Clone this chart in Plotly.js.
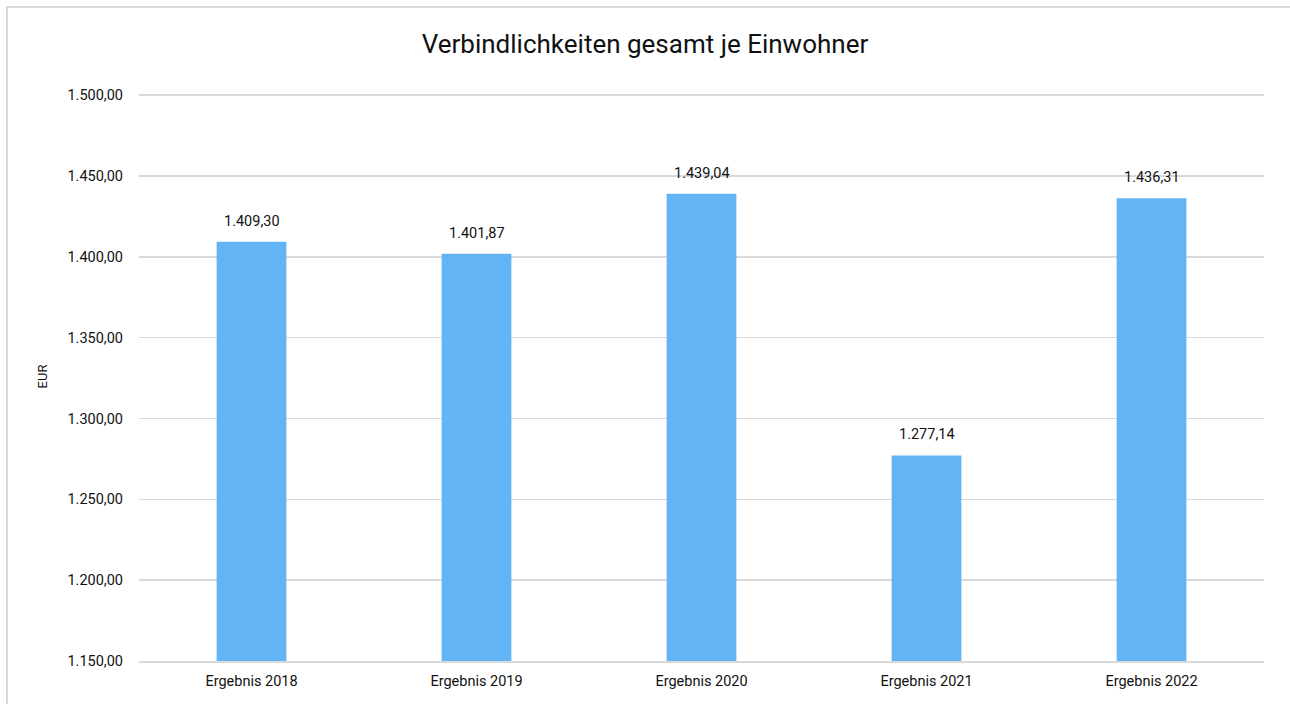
<!DOCTYPE html>
<html><head><meta charset="utf-8">
<script src="https://cdn.plot.ly/plotly-3.0.1.min.js"></script>
<style>
html,body{margin:0;padding:0;background:#fff;}
#frame{position:absolute;left:6px;top:6px;width:1300px;height:720px;border:2px solid #d9d9d9;box-sizing:border-box;pointer-events:none;z-index:5;}
#chart{position:absolute;left:0;top:0;width:1290px;height:704px;}
</style></head>
<body>
<div id="chart"></div><div id="frame"></div>
<script>
const categories = ["Ergebnis 2018","Ergebnis 2019","Ergebnis 2020","Ergebnis 2021","Ergebnis 2022"];
const values = [1409.30, 1401.87, 1439.04, 1277.14, 1436.31];
const tickValues = [1150,1200,1250,1300,1350,1400,1450,1500];

const font = "Roboto, 'Noto Sans', sans-serif";
const fmt = v => v.toLocaleString("de-DE", {minimumFractionDigits: 2, maximumFractionDigits: 2});
const annotations = categories.map((c, i) => ({
  x: c, y: values[i], xref: "x", yref: "y", text: fmt(values[i]), showarrow: false,
  yanchor: "bottom", yshift: 10, font: {family: font, size: 14.5, color: "#111"}
}));

Plotly.newPlot("chart", [{
  type: "bar",
  x: categories,
  y: values,
  marker: {color: "#63b4f5"},
  hoverinfo: "skip"
}], {
  width: 1290, height: 704,
  separators: ",.",
  margin: {l: 139, r: 26, t: 92, b: 43},
  paper_bgcolor: "rgba(0,0,0,0)",
  plot_bgcolor: "#fff",
  bargap: 0.69,
  showlegend: false,
  annotations: annotations,
  title: {text: "Verbindlichkeiten gesamt je Einwohner", x: 0.5, xanchor: "center", y: 0.937, yanchor: "middle",
          font: {family: font, size: 26, color: "#111"}},
  xaxis: {type: "category", showgrid: false, showline: true, linecolor: "#d9d9d9", linewidth: 2,
          ticks: "", ticklabelstandoff: 6, tickfont: {family: font, size: 14.5, color: "#111"}, fixedrange: true},
  yaxis: {range: [1150, 1502], tickvals: tickValues, tickformat: ",.2f", showgrid: true,
          gridcolor: "#d9d9d9", gridwidth: 1.5, zeroline: false, showline: false, ticks: "",
          ticklabelstandoff: 15,
          tickfont: {family: font, size: 14.5, color: "#111"},
          title: {text: "EUR", standoff: 16, font: {family: font, size: 13, color: "#111"}}, fixedrange: true}
}, {displayModeBar: false, staticPlot: true});
</script>
</body></html>
